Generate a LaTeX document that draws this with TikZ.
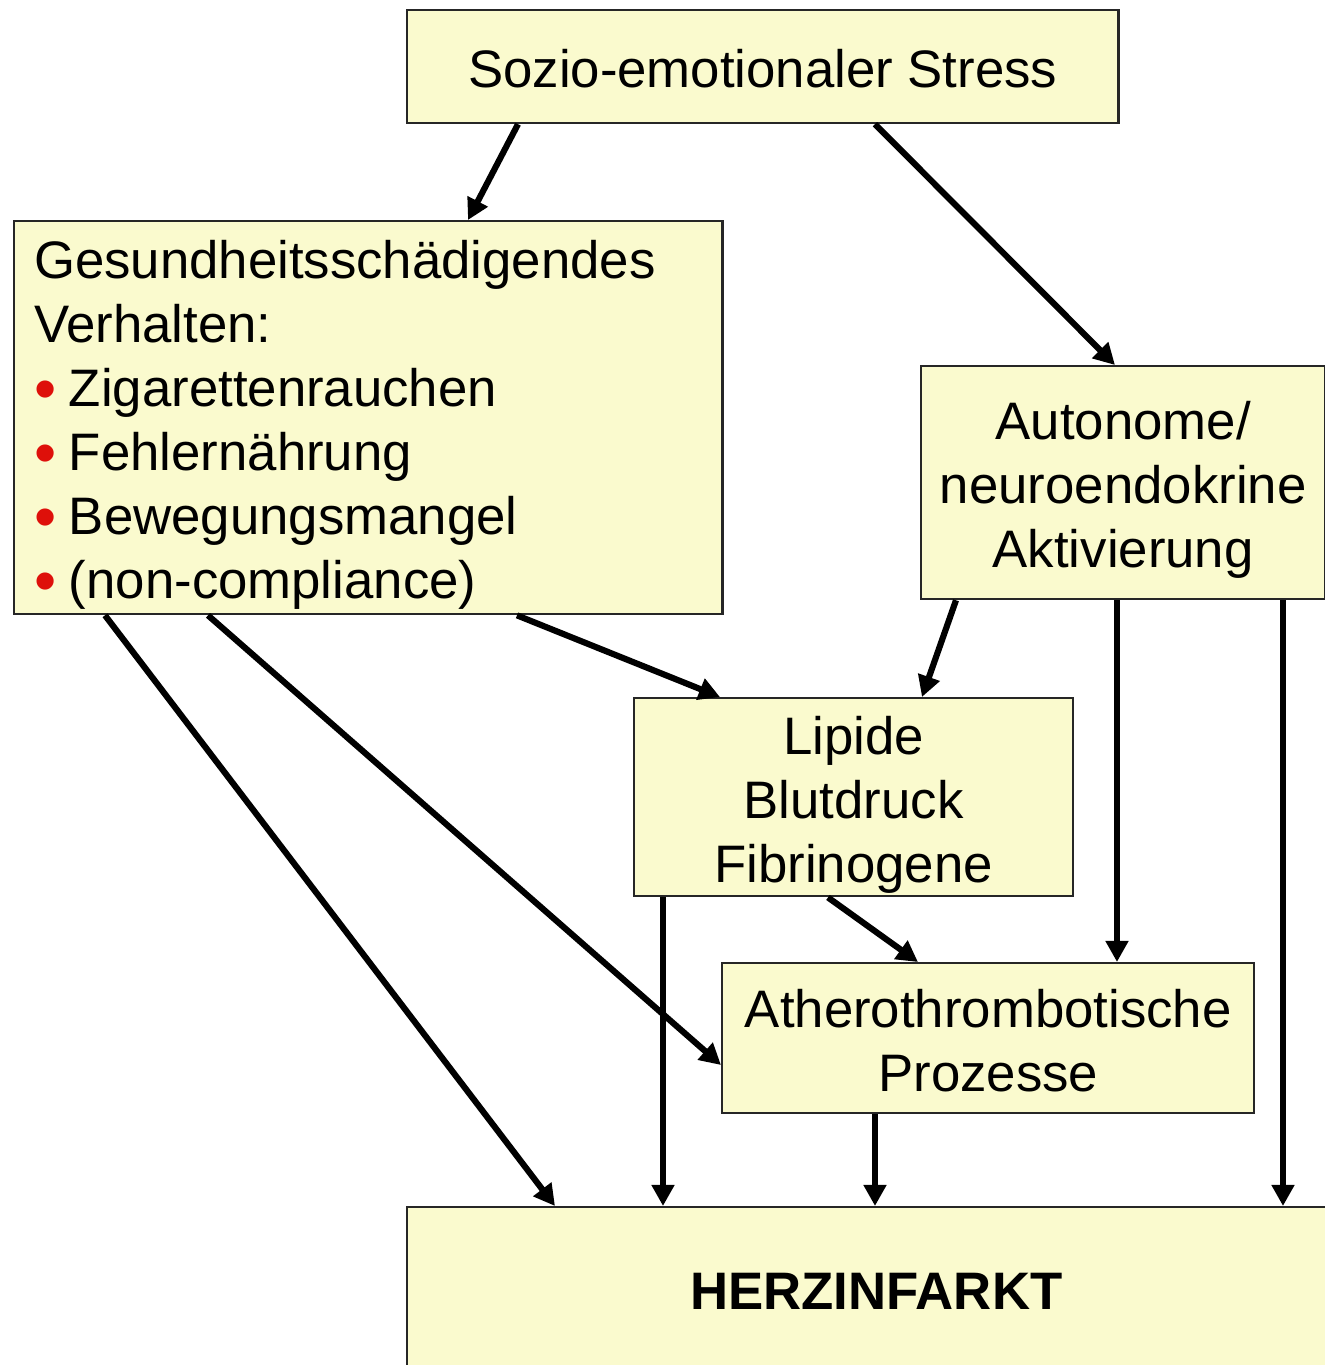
\documentclass[tikz,border=0pt]{standalone}
\usepackage{fontspec}
\setmainfont{Liberation Sans}
\usepackage{tikz}
\usetikzlibrary{arrows.meta,positioning,calc}
\definecolor{boxfill}{RGB}{250,250,206}
\definecolor{bulletred}{RGB}{222,16,10}
\newcommand{\redbullet}{\raisebox{-1.1pt}{\fontsize{18}{18}\selectfont\textcolor{bulletred}{•}}\hspace{3.6pt}}
\newcommand{\hstrut}{\rule{0pt}{16pt}}
\newcommand{\dstrut}{\rule[-4pt]{0pt}{0pt}}

\begin{document}
\begin{tikzpicture}[x=0.01cm, y=-0.01cm, >={Triangle[length=6pt,width=6.2pt]},
  box/.style={draw=black!85, line width=0.6pt, fill=boxfill, rectangle, anchor=north west, align=center,
    inner sep=0pt, font=\fontsize{15}{18.2}\selectfont},
  link/.style={->, line width=1.75pt}]
\useasboundingbox (0,0) rectangle (1325,1365);
\node[box,minimum width=7.11cm,minimum height=1.13cm] (stress) at (406,9) {\hstrut Sozio-emotionaler Stress\dstrut};
\node[box,minimum width=7.08cm,minimum height=3.93cm,text width=6.68cm,align=left] (verhalten) at (13,220)
  {\hstrut Gesundheitsschädigendes\\ Verhalten:\\ \redbullet Zigarettenrauchen\\ \redbullet Fehlernährung\\
   \redbullet Bewegungsmangel\\ \redbullet (non-compliance)\dstrut};
\node[box,minimum width=4.04cm,minimum height=2.33cm] (autonom) at (920,365) {\hstrut Autonome/\\ neuroendokrine\\ Aktivierung\dstrut};
\node[box,minimum width=4.39cm,minimum height=1.96cm] (lipide) at (633,697) {\hstrut Lipide\\ Blutdruck\\ Fibrinogene\dstrut};
\node[box,minimum width=5.32cm,minimum height=1.50cm] (athero) at (721,962) {\hstrut Atherothrombotische\\ Prozesse\dstrut};
\node[box,minimum width=9.38cm,minimum height=1.68cm,font=\fontsize{15}{18.2}\selectfont\bfseries] (herz) at (406,1206) {HERZINFARKT};
\draw[link] ($(stress.south west)+(112,0)$) -- ($(verhalten.north west)+(455,0)$);
\draw[link] ($(stress.south west)+(469,0)$) -- ($(autonom.north west)+(195,0)$);
\draw[link] ($(verhalten.south west)+(504,0)$) -- ($(lipide.north west)+(87,0)$);
\draw[link] ($(autonom.south west)+(36,0)$) -- ($(lipide.north west)+(289,0)$);
\draw[link] ($(autonom.south west)+(197,0)$) -- ($(athero.north west)+(396,0)$);
\draw[link] ($(autonom.south west)+(363,0)$) -- ($(herz.north west)+(877,0)$);
\draw[link] ($(verhalten.south west)+(195,0)$) -- ($(athero.north west)+(0,103)$);
\draw[link] ($(verhalten.south west)+(92,0)$) -- ($(herz.north west)+(149,0)$);
\draw[link] ($(lipide.south west)+(30,0)$) -- ($(herz.north west)+(257,0)$);
\draw[link] ($(lipide.south west)+(195,0)$) -- ($(athero.north west)+(197,0)$);
\draw[link] ($(athero.south west)+(154,0)$) -- ($(herz.north west)+(469,0)$);
\end{tikzpicture}
\end{document}
